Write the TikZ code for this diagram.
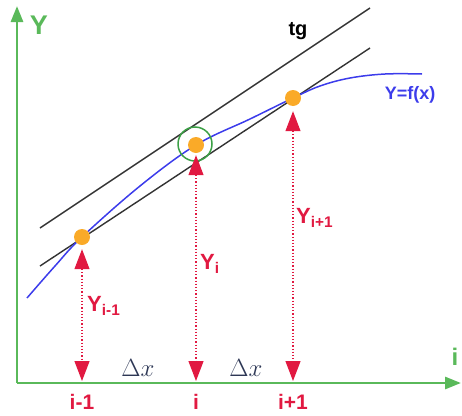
\documentclass[tikz,border=0pt]{standalone}
\usepackage{fontspec}
\setsansfont{Liberation Sans}
\usetikzlibrary{arrows.meta}
\definecolor{axisgreen}{RGB}{90,185,90}
\definecolor{ptred}{RGB}{225,25,65}
\definecolor{ptorange}{RGB}{250,170,40}
\definecolor{curveblue}{RGB}{60,60,235}
\definecolor{dxcol}{RGB}{45,55,85}
\definecolor{circgreen}{RGB}{60,160,70}
\tikzset{redtip/.tip={Triangle[width=15pt,length=20pt]}}
\begin{document}
\begin{tikzpicture}[x=1pt,y=-1pt,
  axis/.style={draw=axisgreen,line width=2.8pt,-{Triangle[width=12pt,length=16pt]}},
  dot/.style={circle,fill=ptorange,draw=none,minimum size=16pt,inner sep=0pt},
  yarrow/.style={draw=ptred,line width=1.2pt,dotted,redtip-redtip},
  tline/.style={draw=black!80,line width=1.4pt},
  fcurve/.style={draw=curveblue,line width=1.5pt},
  lab/.style={font=\sffamily\bfseries\fontsize{20}{20}\selectfont,inner sep=0pt},
  ticklab/.style={font=\sffamily\bfseries\fontsize{21}{21}\selectfont,text=ptred,inner sep=0pt},
  dx/.style={font=\fontsize{25}{25}\selectfont,text=dxcol,inner sep=0pt}]
\useasboundingbox (0,0) rectangle (462,415);
% axes
\coordinate (O) at (17,383);
\coordinate (Ytop) at (17,6);
\coordinate (Xend) at (461,383);
\draw[axis] (O) -- (Ytop);
\draw[axis] (O) -- (Xend);
% lines
\coordinate (T1) at (40,228);
\coordinate (T2) at (370,8);
\coordinate (C1) at (40,266);
\coordinate (C2) at (370,48);
\draw[tline] (T1) -- (T2);
\draw[tline] (C1) -- (C2);
% curve
\draw[fcurve] plot[smooth,tension=0.6] coordinates {(27,298) (55,266) (82,237) (140,186) (196,145) (250,119) (293,98) (320,86) (350,78) (385,74) (422,74)};
% green circle
\node[circle,draw=circgreen,line width=1.5pt,minimum size=34pt,inner sep=0pt] (G) at (195,144) {};
% points
\node[dot] (P1) at (82,237) {};
\node[dot] (P2) at (196,145) {};
\node[dot] (P3) at (293,98) {};
% bottom coordinates
\coordinate (B1) at (82,381);
\coordinate (B2) at (196,381);
\coordinate (B3) at (293,381);
\draw[yarrow,shorten <=4pt] (P1.south) -- (B1);
\draw[yarrow,shorten <=2pt] (P2.south) -- (B2);
\draw[yarrow,shorten <=5pt] (P3.south) -- (B3);
% labels
\node[lab,text=axisgreen,font=\sffamily\bfseries\fontsize{27}{27}\selectfont] (Ylab) at (39,25) {Y};
\node[lab,text=axisgreen,font=\sffamily\bfseries\fontsize{24}{24}\selectfont] (ilab) at (455,357) {i};
\node[lab,text=black] (tg) at (298,31) {tg};
\node[lab,text=curveblue,font=\sffamily\bfseries\fontsize{18}{18}\selectfont] (flab) at (410,95) {Y=f(x)};
\node[lab,text=ptred,anchor=west,font=\sffamily\bfseries\fontsize{22}{22}\selectfont] (Y1) at (87,306) {Y\textsubscript{i-1}};
\node[lab,text=ptred,anchor=west,font=\sffamily\bfseries\fontsize{22}{22}\selectfont] (Y2) at (200,264) {Y\textsubscript{i}};
\node[lab,text=ptred,anchor=west,font=\sffamily\bfseries\fontsize{22}{22}\selectfont] (Y3) at (296,218) {Y\textsubscript{i+1}};
\node[ticklab] (t1) at (82,402) {i-1};
\node[ticklab] (t2) at (196,402) {i};
\node[ticklab] (t3) at (293,402) {i+1};
\node[dx] (dx1) at (138,368) {$\Delta x$};
\node[dx] (dx2) at (246,368) {$\Delta x$};
\end{tikzpicture}
\end{document}
